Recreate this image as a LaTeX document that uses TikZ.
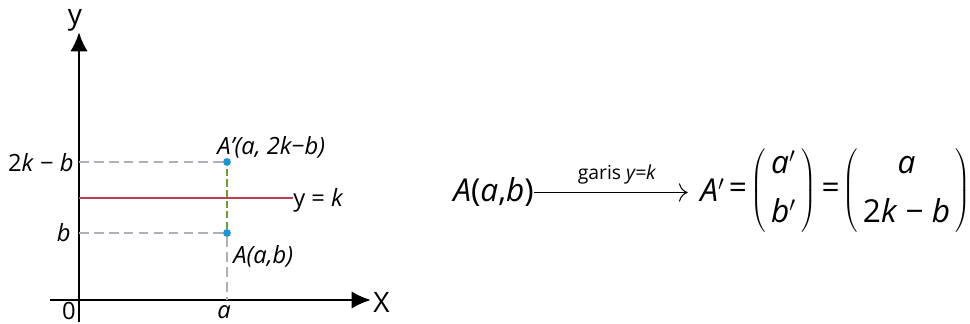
\documentclass[tikz,border=0pt]{standalone}
\usepackage{fontspec}
\setmainfont{Open Sans}
\usetikzlibrary{positioning, arrows.meta}

\definecolor{linered}{RGB}{185,65,80}
\definecolor{dotblue}{RGB}{30,150,210}
\definecolor{guidegray}{RGB}{175,175,185}
\definecolor{guidegreen}{RGB}{100,160,60}

\begin{document}
\begin{tikzpicture}[
    x=0.02cm, y=-0.02cm,
    element/.style={
        font=\fontsize{13.5}{16}\selectfont,
        inner sep=0pt
    },
    formula/.style={
        font=\fontsize{18}{22}\selectfont,
        inner sep=0pt
    },
    axis/.style={line width=1.6pt, -{Latex[length=11pt, width=10pt]}},
    guide/.style={guidegray, line width=0.9pt, dash pattern=on 5.5pt off 3pt},
    ptdot/.style={circle, fill=dotblue, inner sep=0pt, minimum size=4.5pt}
]
\useasboundingbox (0,0) rectangle (970,324);

% Axes
\coordinate (xstart) at (50,300);
\coordinate (xend) at (371,300);
\coordinate (ystart) at (79,322);
\coordinate (yend) at (79,32);
\draw[axis] (xstart) -- (xend);
\draw[axis] (ystart) -- (yend);
\node[element, font=\fontsize{16}{20}\selectfont, anchor=west] (xlab) at (373,302) {X};
\node[element, font=\fontsize{16}{20}\selectfont] (ylab) at (75,20) {y};

% Origin and tick texts
\node[element] (zero) at (69,311) {0};
\node[element] (atext) at (224,312) {\textit{a}};

% Points
\node[ptdot] (A) at (227,233) {};
\node[ptdot] (Aimg) at (227,162) {};
\coordinate (yb) at (79,233);
\coordinate (ymir) at (79,162);
\coordinate (xa) at (227,300);

\node[element, anchor=east] (btext) at (71,233) {\textit{b}};
\node[element, anchor=east] (mirtext) at (74,163) {2\textit{k} − \textit{b}};

% Mirror line y = k
\coordinate (kstart) at (79,198);
\node[element, anchor=west] (ktext) at (293,200) {y = \textit{k}};
\draw[linered, line width=1.4pt] (kstart) -- (kstart -| ktext.west);

% Guides
\draw[guide] (yb) -- (A);
\draw[guide] (ymir) -- (Aimg);
\draw[guide] (A) -- (xa);
\draw[guidegreen, line width=0.9pt, dash pattern=on 4pt off 2pt] (A) -- (Aimg);

% Point labels
\node[element, anchor=west] (Aimgtext) at (217,147) {\textit{A’(a, 2k−b)}};
\node[element, anchor=west] (Atext) at (233,256) {\textit{A(a,b)}};

% Formula
\node[formula, anchor=base west] (src) at (453,202) {\textit{A}(\textit{a},\textit{b})};
\node[formula, anchor=base west] (img) at (700,202) {\textit{A}$'$};
\draw[-{To[length=5pt]}, line width=0.6pt, shorten >=7pt] (src.east) -- (src.east -| img.west)
    node[midway, above=1pt, font=\fontsize{11}{13}\selectfont] (garis) {garis \textit{y=k}};
\node[formula, right=2pt of img] (eq1) {=};
\node[formula, right=1.5pt of eq1] (mat1) {$\left(\begin{tabular}{@{\,}c@{\,}}\textit{a}$'$\\[6pt]\textit{b}$'$\end{tabular}\right)$};
\node[formula, right=2.5pt of mat1] (eq2) {=};
\node[formula, right=1pt of eq2] (mat2) {$\left(\begin{tabular}{@{\hspace{3pt}}c@{\hspace{3pt}}}\textit{a}\\[6pt]2\textit{k} − \textit{b}\end{tabular}\right)$};

\end{tikzpicture}
\end{document}
